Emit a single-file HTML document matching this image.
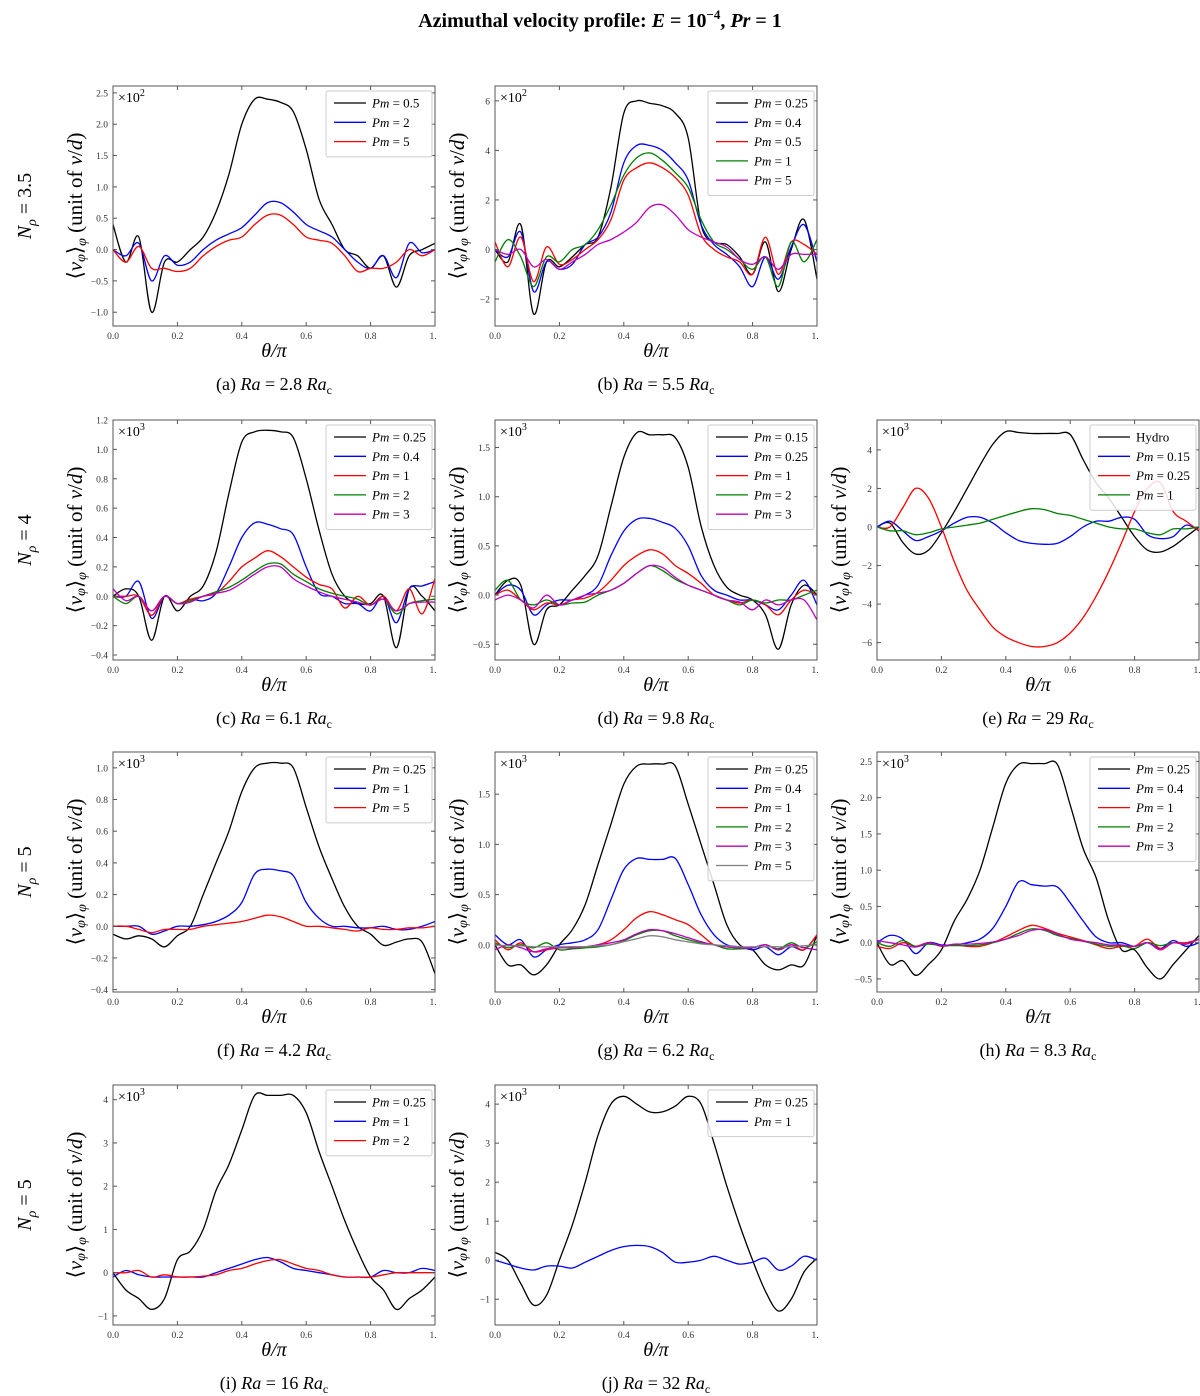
<!DOCTYPE html>
<html><head><meta charset="utf-8"><style>
body{margin:0;background:#fff;}
svg{display:block;font-family:"Liberation Serif",serif;}
</style></head><body>
<svg id="fig" width="1200" height="1396" viewBox="0 0 1200 1396" xmlns="http://www.w3.org/2000/svg">
<text x="600" y="27" text-anchor="middle" font-size="20" font-weight="bold">Azimuthal velocity profile: <tspan font-style="italic">E</tspan> = 10<tspan dy="-8" font-size="13">−4</tspan><tspan dy="8">,  </tspan><tspan font-style="italic">Pr</tspan> = 1</text>
</svg>
<script>
const theta = [0,0.04,0.08,0.12,0.16,0.2,0.24,0.28,0.32,0.36,0.4,0.44,0.48,0.52,0.56,0.6,0.64,0.68,0.72,0.76,0.8,0.84,0.88,0.92,0.96,1.0];
const xTicks = [0,0.2,0.4,0.6,0.8,1.0];
const xTickLabels = ["0.0","0.2","0.4","0.6","0.8","1."];

const a_pm05 = [0.4,-0.2,0.2,-1.0,-0.2,-0.2,0.0,0.2,0.6,1.2,2.0,2.4,2.4,2.35,2.2,1.6,0.8,0.4,0.0,-0.1,-0.3,-0.1,-0.6,-0.1,0.0,0.1];
const a_pm2 = [0,-0.1,0.1,-0.5,-0.1,-0.25,-0.2,0.0,0.15,0.25,0.35,0.55,0.75,0.75,0.6,0.4,0.3,0.2,0.0,-0.2,-0.3,-0.1,-0.45,0.1,-0.05,0.0];
const a_pm5 = [0,-0.2,0.05,-0.3,-0.3,-0.35,-0.3,-0.1,0.05,0.15,0.2,0.4,0.55,0.55,0.4,0.2,0.15,0.1,-0.1,-0.35,-0.3,-0.3,-0.2,0.0,-0.1,0.0];
const a_ticks = [-1.0,-0.5,0.0,0.5,1.0,1.5,2.0,2.5];

const b_pm025 = [0,-0.5,1.0,-2.6,-0.5,-0.7,-0.3,0.2,0.5,2.5,5.5,6.0,5.9,5.8,5.5,4.5,1.0,0.3,0.2,-0.3,-1.0,0.3,-1.7,0.0,1.2,-1.2];
const b_pm04 = [0,-0.3,0.7,-1.7,-0.5,-0.8,-0.6,0.2,0.5,1.5,3.5,4.2,4.2,4.0,3.5,2.8,1.0,0.2,-0.2,-0.7,-1.5,-0.3,-1.2,0.1,1.0,-0.5];
const b_pm05 = [0.3,-0.7,0.5,-1.3,0.1,-0.6,-0.4,0.0,0.4,1.2,2.8,3.3,3.5,3.3,2.9,2.2,0.6,0.0,-0.3,-0.5,-1.0,0.5,-1.0,0.3,0.2,-0.2];
const b_pm1 = [-0.5,0.4,-0.3,-1.5,-0.3,-0.5,0.0,0.2,0.8,1.8,3.0,3.7,3.9,3.6,3.1,2.5,1.2,0.3,0.0,-0.4,-0.8,-0.3,-1.5,0.3,-0.5,0.4];
const b_pm5 = [0,-0.2,0.0,-0.7,-0.4,-0.8,-0.5,-0.2,0.2,0.4,0.7,1.1,1.7,1.8,1.4,0.8,0.5,0.3,0.1,-0.4,-0.6,-0.3,-0.8,-0.2,-0.2,-0.2];
const b_ticks = [-2,0,2,4,6];

const c_pm025 = [0,0.05,0.0,-0.3,0.0,-0.1,0.0,0.07,0.3,0.7,1.05,1.12,1.13,1.12,1.08,0.8,0.45,0.15,0.0,-0.05,-0.05,0.0,-0.35,0.05,0.0,-0.1];
const c_pm04 = [0,0.0,0.1,-0.15,0.0,-0.05,-0.02,-0.03,0.02,0.2,0.4,0.5,0.49,0.46,0.42,0.2,0.02,0.0,-0.05,-0.05,-0.1,0.0,-0.18,0.05,0.07,0.1];
const c_pm1 = [0,0.0,0.0,-0.13,0.0,-0.05,-0.02,0.0,0.02,0.1,0.2,0.26,0.31,0.27,0.2,0.13,0.08,0.05,-0.08,0.0,-0.06,0.0,-0.1,0.05,-0.12,0.12];
const c_pm2 = [0,-0.05,0.0,-0.1,0.0,-0.05,-0.03,0.0,0.03,0.06,0.11,0.17,0.22,0.22,0.15,0.1,0.05,0.02,0.0,-0.02,-0.06,-0.02,-0.12,-0.05,-0.03,-0.02];
const c_pm3 = [0.05,-0.03,0.0,-0.1,0.0,-0.05,-0.04,0.0,0.02,0.04,0.09,0.15,0.2,0.2,0.12,0.07,0.03,0.0,-0.02,-0.04,-0.06,-0.02,-0.1,-0.05,-0.04,-0.04];
const c_ticks = [-0.4,-0.2,0.0,0.2,0.4,0.6,0.8,1.0,1.2];

const d_pm015 = [0,0.15,0.1,-0.5,-0.15,-0.1,0.05,0.2,0.4,0.9,1.4,1.65,1.63,1.63,1.6,1.3,0.7,0.3,0.08,0.0,-0.05,-0.2,-0.55,-0.1,0.1,0.0];
const d_pm025 = [0,0.1,0.05,-0.2,-0.1,-0.05,-0.05,0.0,0.1,0.4,0.65,0.77,0.78,0.74,0.68,0.5,0.2,0.05,0.0,-0.05,-0.05,-0.1,-0.15,0.0,0.15,-0.1];
const d_pm1 = [0,0.05,-0.05,-0.15,-0.08,-0.1,-0.05,-0.03,0.03,0.15,0.3,0.4,0.46,0.42,0.3,0.22,0.12,0.0,-0.05,-0.08,-0.05,-0.1,-0.2,-0.05,0.05,0.0];
const d_pm2 = [0.05,0.15,-0.05,-0.1,-0.05,-0.1,-0.08,-0.07,0.0,0.05,0.12,0.22,0.3,0.25,0.16,0.1,0.05,0.0,-0.05,-0.1,-0.05,-0.08,-0.05,-0.05,0.0,0.05];
const d_pm3 = [-0.05,0.0,-0.05,-0.13,0.0,-0.1,-0.05,0.0,0.02,0.05,0.12,0.22,0.3,0.28,0.18,0.1,0.05,0.0,-0.05,-0.07,-0.15,-0.05,-0.1,-0.05,-0.05,-0.25];
const d_ticks = [-0.5,0.0,0.5,1.0,1.5];

const e_hydro = [0,0.2,-0.8,-1.4,-1.2,-0.3,0.8,2.0,3.2,4.3,4.95,4.9,4.85,4.85,4.85,4.8,3.5,2.3,1.5,0.5,-0.5,-1.2,-1.3,-1.0,-0.5,0.0];
const e_pm015 = [0,0.3,-0.2,-0.7,-0.5,-0.2,0.2,0.5,0.5,0.2,-0.3,-0.7,-0.85,-0.9,-0.85,-0.5,0.0,0.3,0.3,0.5,0.4,-0.4,-0.6,-0.5,0.1,-0.2];
const e_pm025 = [0,0.0,1.0,2.0,1.5,0.0,-1.8,-3.3,-4.3,-5.2,-5.7,-6.0,-6.2,-6.2,-6.0,-5.5,-4.7,-3.6,-2.3,-0.8,0.8,2.0,2.3,0.8,0.3,-0.2];
const e_pm1 = [0,-0.2,-0.2,-0.4,-0.3,-0.1,0.0,0.1,0.2,0.4,0.6,0.8,0.95,0.9,0.7,0.6,0.4,0.2,0.0,-0.1,-0.1,-0.3,-0.4,-0.1,-0.1,0.0];
const e_ticks = [-6,-4,-2,0,2,4];

const f_pm025 = [-0.05,-0.08,-0.06,-0.08,-0.13,-0.06,0.0,0.2,0.4,0.6,0.85,1.0,1.03,1.03,1.0,0.75,0.5,0.3,0.12,0.0,-0.05,-0.12,-0.1,-0.08,-0.1,-0.3];
const f_pm1 = [0,0.0,0.0,-0.05,-0.03,0.0,0.0,0.01,0.03,0.07,0.15,0.33,0.36,0.35,0.32,0.15,0.05,0.0,0.0,-0.01,-0.01,0.0,-0.02,-0.02,0.0,0.03];
const f_pm5 = [0,0.0,-0.02,-0.04,-0.02,-0.02,-0.02,0.0,0.01,0.02,0.03,0.05,0.07,0.06,0.03,0.0,0.0,-0.01,-0.02,-0.03,-0.01,-0.02,-0.02,-0.01,-0.01,0.0];
const f_ticks = [-0.4,-0.2,0.0,0.2,0.4,0.6,0.8,1.0];

const g_pm025 = [0,-0.2,-0.2,-0.3,-0.2,0.0,0.15,0.4,0.8,1.2,1.6,1.78,1.8,1.8,1.78,1.4,1.0,0.6,0.2,0.0,-0.05,-0.2,-0.25,-0.2,-0.2,0.1];
const g_pm04 = [0.1,0.0,0.05,-0.12,-0.05,0.0,0.02,0.05,0.15,0.45,0.75,0.86,0.85,0.85,0.86,0.6,0.3,0.1,0.0,-0.02,-0.05,-0.02,-0.1,-0.02,-0.05,0.1];
const g_pm1 = [0.05,-0.05,0.02,-0.07,-0.05,-0.03,-0.02,-0.02,0.0,0.05,0.15,0.27,0.33,0.3,0.25,0.2,0.1,0.0,-0.02,-0.03,-0.03,0.0,-0.05,0.0,-0.05,0.1];
const g_pm2 = [0.02,-0.03,0.0,-0.03,0.02,-0.05,-0.04,-0.03,-0.02,0.0,0.04,0.1,0.14,0.14,0.09,0.05,0.02,0.0,-0.04,-0.04,-0.03,0.0,-0.04,0.02,-0.03,0.03];
const g_pm3 = [-0.05,0.0,-0.03,-0.07,-0.04,-0.03,-0.03,-0.02,0.0,0.02,0.05,0.11,0.15,0.14,0.11,0.07,0.03,0.0,-0.02,-0.03,-0.03,0.0,-0.05,0.0,-0.03,-0.05];
const g_pm5 = [0,-0.01,-0.01,-0.02,-0.02,-0.02,-0.02,-0.02,-0.01,0.0,0.03,0.06,0.09,0.08,0.05,0.03,0.01,0.0,-0.01,-0.02,-0.02,-0.02,-0.02,-0.02,-0.01,0.0];
const g_ticks = [0.0,0.5,1.0,1.5];

const h_pm025 = [0.0,-0.3,-0.25,-0.45,-0.3,-0.1,0.3,0.6,1.0,1.6,2.2,2.46,2.47,2.47,2.46,1.9,1.3,0.9,0.3,-0.1,-0.1,-0.35,-0.5,-0.3,-0.1,0.1];
const h_pm04 = [0,0.1,0.05,-0.15,0.0,-0.03,-0.03,0.0,0.05,0.2,0.5,0.84,0.8,0.78,0.77,0.55,0.3,0.08,0.0,0.0,-0.05,0.0,-0.08,0.03,-0.05,0.0];
const h_pm1 = [-0.05,-0.08,0.0,-0.05,0.0,-0.05,-0.03,-0.05,-0.05,0.0,0.08,0.17,0.24,0.2,0.13,0.08,0.03,-0.03,-0.08,-0.05,-0.05,0.05,-0.08,0.0,0.0,0.05];
const h_pm2 = [0,-0.05,0.03,-0.05,-0.02,-0.04,-0.04,-0.04,-0.03,0.0,0.05,0.13,0.19,0.17,0.1,0.06,0.02,-0.02,-0.05,-0.04,-0.08,0.0,-0.04,0.0,-0.02,0.05];
const h_pm3 = [0.03,0.0,-0.03,-0.06,0.0,-0.04,-0.02,-0.02,-0.01,0.01,0.05,0.1,0.17,0.18,0.12,0.05,0.02,0.0,-0.03,-0.03,-0.05,0.0,-0.1,0.0,-0.02,0.05];
const h_ticks = [-0.5,0.0,0.5,1.0,1.5,2.0,2.5];

const i_pm025 = [0,-0.4,-0.6,-0.85,-0.6,0.3,0.5,1.0,1.9,2.5,3.3,4.1,4.1,4.1,4.1,3.7,2.8,2.0,1.2,0.5,-0.1,-0.4,-0.85,-0.6,-0.4,-0.1];
const i_pm1 = [-0.1,0.05,-0.05,-0.1,-0.1,-0.1,-0.1,-0.1,0.0,0.1,0.2,0.3,0.35,0.25,0.1,0.05,0.0,-0.05,-0.1,-0.1,-0.1,0.05,0.0,0.0,0.1,0.05];
const i_pm2 = [0,0.0,0.05,-0.1,-0.05,-0.1,-0.1,-0.08,-0.05,0.05,0.1,0.2,0.28,0.3,0.2,0.1,0.05,-0.05,-0.1,-0.1,-0.1,-0.05,0.0,0.0,0.0,0.0];
const i_ticks = [-1,0,1,2,3,4];

const j_pm025 = [0.2,0.0,-0.6,-1.15,-0.9,0.0,0.9,2.0,3.2,4.0,4.2,4.0,3.8,3.8,3.95,4.2,4.0,3.0,1.9,0.9,0.0,-0.8,-1.3,-1.0,-0.3,0.05];
const j_pm1 = [0,-0.1,-0.2,-0.25,-0.15,-0.15,-0.2,-0.05,0.1,0.25,0.35,0.38,0.35,0.2,-0.05,-0.05,0.0,0.1,0.0,-0.1,-0.05,0.05,-0.25,-0.15,0.1,0.0];
const j_ticks = [-1,0,1,2,3,4];

const K='#000000',B='#0000ff',R='#ff0000',G='#008000',M='#bf00bf',GR='#808080';
const colX=[113,495,877], rowY=[86,420,752,1085], W=322, H=240;
const panels=[
 {id:'a',c:0,r:0,ymin:-1.22,ymax:2.61,ticks:a_ticks,dec:1,exp:'2',cap:['(a) ','2.8'],series:[[a_pm05,K,'0.5'],[a_pm2,B,'2'],[a_pm5,R,'5']]},
 {id:'b',c:1,r:0,ymin:-3.09,ymax:6.6,ticks:b_ticks,dec:0,exp:'2',cap:['(b) ','5.5'],series:[[b_pm025,K,'0.25'],[b_pm04,B,'0.4'],[b_pm05,R,'0.5'],[b_pm1,G,'1'],[b_pm5,M,'5']]},
 {id:'c',c:0,r:1,ymin:-0.434,ymax:1.2,ticks:c_ticks,dec:1,exp:'3',cap:['(c) ','6.1'],series:[[c_pm025,K,'0.25'],[c_pm04,B,'0.4'],[c_pm1,R,'1'],[c_pm2,G,'2'],[c_pm3,M,'3']]},
 {id:'d',c:1,r:1,ymin:-0.66,ymax:1.78,ticks:d_ticks,dec:1,exp:'3',cap:['(d) ','9.8'],series:[[d_pm015,K,'0.15'],[d_pm025,B,'0.25'],[d_pm1,R,'1'],[d_pm2,G,'2'],[d_pm3,M,'3']]},
 {id:'e',c:2,r:1,ymin:-6.9,ymax:5.55,ticks:e_ticks,dec:0,exp:'3',cap:['(e) ','29'],series:[[e_hydro,K,'Hydro'],[e_pm015,B,'0.15'],[e_pm025,R,'0.25'],[e_pm1,G,'1']]},
 {id:'f',c:0,r:2,ymin:-0.415,ymax:1.10,ticks:f_ticks,dec:1,exp:'3',cap:['(f) ','4.2'],series:[[f_pm025,K,'0.25'],[f_pm1,B,'1'],[f_pm5,R,'5']]},
 {id:'g',c:1,r:2,ymin:-0.47,ymax:1.92,ticks:g_ticks,dec:1,exp:'3',cap:['(g) ','6.2'],series:[[g_pm025,K,'0.25'],[g_pm04,B,'0.4'],[g_pm1,R,'1'],[g_pm2,G,'2'],[g_pm3,M,'3'],[g_pm5,GR,'5']]},
 {id:'h',c:2,r:2,ymin:-0.68,ymax:2.63,ticks:h_ticks,dec:1,exp:'3',cap:['(h) ','8.3'],series:[[h_pm025,K,'0.25'],[h_pm04,B,'0.4'],[h_pm1,R,'1'],[h_pm2,G,'2'],[h_pm3,M,'3']]},
 {id:'i',c:0,r:3,ymin:-1.21,ymax:4.34,ticks:i_ticks,dec:0,exp:'3',cap:['(i) ','16'],series:[[i_pm025,K,'0.25'],[i_pm1,B,'1'],[i_pm2,R,'2']]},
 {id:'j',c:1,r:3,ymin:-1.66,ymax:4.49,ticks:j_ticks,dec:0,exp:'3',cap:['(j) ','32'],series:[[j_pm025,K,'0.25'],[j_pm1,B,'1']]}
];
const rowLabels=['3.5','4','5','5'];
const NS='http://www.w3.org/2000/svg';
const svg=document.getElementById('fig');
function mk(tag,attrs,parent){const e=document.createElementNS(NS,tag);for(const k in attrs)e.setAttribute(k,attrs[k]);(parent||svg).appendChild(e);return e;}
function smooth(pts){let d='M'+pts[0][0].toFixed(1)+','+pts[0][1].toFixed(1);for(let i=0;i<pts.length-1;i++){const p0=pts[i-1]||pts[i],p1=pts[i],p2=pts[i+1],p3=pts[i+2]||p2;const c1=[p1[0]+(p2[0]-p0[0])/6,p1[1]+(p2[1]-p0[1])/6],c2=[p2[0]-(p3[0]-p1[0])/6,p2[1]-(p3[1]-p1[1])/6];d+='C'+c1[0].toFixed(1)+','+c1[1].toFixed(1)+' '+c2[0].toFixed(1)+','+c2[1].toFixed(1)+' '+p2[0].toFixed(1)+','+p2[1].toFixed(1);}return d;}

rowLabels.forEach((v,r)=>{
 const cy=rowY[r]+H/2;
 const t=mk('text',{x:0,y:0,transform:`translate(31,${cy}) rotate(-90)`,'text-anchor':'middle','font-size':20});
 
 
 t.innerHTML='<tspan font-style="italic">N</tspan><tspan font-size="14" dy="5" font-style="italic">ρ</tspan><tspan dy="-5"> = '+v+'</tspan>';
});

panels.forEach(p=>{
 const x0=colX[p.c], y0=rowY[p.r];
 const g=mk('g',{});
 
 
 const sx=v=>x0+v*W;
 const sy=v=>y0+H-(v-p.ymin)/(p.ymax-p.ymin)*H;
 const cp=mk('clipPath',{id:'clip'+p.id},g);
 mk('rect',{x:x0,y:y0,width:W,height:H},cp);
 p.series.forEach(s=>{
  const pts=theta.map((t,i)=>[sx(t),sy(s[0][i])]);
  const path=mk('path',{d:smooth(pts),fill:'none',stroke:s[1],'stroke-width':1.3,'clip-path':'url(#clip'+p.id+')'},g);
  
  
 });
 const fr=mk('rect',{x:x0,y:y0,width:W,height:H,fill:'none',stroke:'#555','stroke-width':1},g);
 
 
 xTicks.forEach((t,i)=>{
  const X=sx(t);
  mk('line',{x1:X,x2:X,y1:y0+H,y2:y0+H-4,stroke:'#555'},g);
  mk('line',{x1:X,x2:X,y1:y0,y2:y0+4,stroke:'#555'},g);
  const tl=mk('text',{x:i==5?X-2:X,y:y0+H+13,'text-anchor':'middle','font-size':9.5,fill:'#333'},g);
  
  
  tl.textContent=xTickLabels[i];
 });
 p.ticks.forEach(t=>{
  const Y=sy(t);
  mk('line',{x1:x0,x2:x0+4,y1:Y,y2:Y,stroke:'#555'},g);
  mk('line',{x1:x0+W,x2:x0+W-4,y1:Y,y2:Y,stroke:'#555'},g);
  const tl=mk('text',{x:x0-5,y:Y+3.5,'text-anchor':'end','font-size':9.5,fill:'#333'},g);
  
  
  tl.textContent=(t<0?'−':'')+Math.abs(t).toFixed(p.dec);
 });
 const m=mk('text',{x:x0+5,y:y0+16,'font-size':14},g);
 
 
 m.innerHTML='×10<tspan dy="-6" font-size="10">'+p.exp+'</tspan>';
 const xl=mk('text',{x:x0+W/2,y:y0+H+31,'text-anchor':'middle','font-size':20,'font-style':'italic'},g);
 
 
 xl.textContent='θ/π';
 const yl=mk('text',{x:0,y:0,transform:`translate(${x0-31},${y0+H/2}) rotate(-90)`,'text-anchor':'middle','font-size':21},g);
 
 
 yl.innerHTML='⟨<tspan font-style="italic">v</tspan><tspan font-size="14" dy="3" font-style="italic">φ</tspan><tspan dy="-3">⟩</tspan><tspan font-size="14" dy="4" font-style="italic">φ</tspan><tspan dy="-4"> (unit of </tspan><tspan font-style="italic">ν</tspan>/<tspan font-style="italic">d</tspan>)';
 const n=p.series.length, lw=106, lx=x0+W-lw-3, ly=y0+5;
 const lg=mk('g',{},g);
 
 
 mk('rect',{x:lx,y:ly,width:lw,height:n*19.3+8,fill:'#fff','fill-opacity':0.85,stroke:'#ccc',rx:2},lg);
 p.series.forEach((s,i)=>{
  const yy=ly+12+i*19.3;
  const le=mk('g',{},lg);
  
  
  mk('line',{x1:lx+8,x2:lx+40,y1:yy,y2:yy,stroke:s[1],'stroke-width':1.3},le);
  const t=mk('text',{x:lx+46,y:yy+4.5,'font-size':13},le);
  t.innerHTML = s[2]=='Hydro' ? 'Hydro' : '<tspan font-style="italic">Pm</tspan> = '+s[2];
 });
 const cap=mk('text',{x:x0+W/2,y:y0+H+64,'text-anchor':'middle','font-size':18},g);
 
 
 cap.innerHTML=p.cap[0]+'<tspan font-style="italic">Ra</tspan> = '+p.cap[1]+' <tspan font-style="italic">Ra</tspan><tspan font-size="12" dy="4">c</tspan>';
});
</script>
</body></html>
